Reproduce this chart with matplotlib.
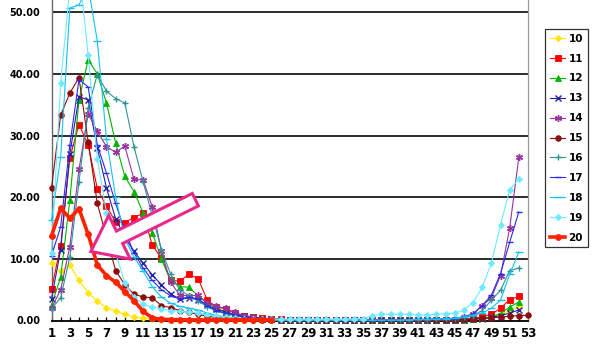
import numpy as np
import matplotlib
matplotlib.use("Agg")
import matplotlib.pyplot as plt
from matplotlib.patches import FancyArrowPatch

# ---------------- data ----------------
weeks = list(range(1, 54))
x_tick_labels = [str(w) if w % 2 == 1 else "" for w in weeks]
y_ticks = [0, 10, 20, 30, 40, 50]
y_tick_labels = ["0.00", "10.00", "20.00", "30.00", "40.00", "50.00"]
series_names = ["10", "11", "12", "13", "14", "15", "16", "17", "18", "19", "20"]

N = None
s10 = [9.3, 8.0, 9.0, 6.5, 4.5, 3.1, 2.1, 1.5, 1.0, 0.6, 0.35, 0.2,
       0.15, 0.12, 0.1, 0.1, 0.08, 0.06, 0.05, 0.04, 0.03, 0.03, 0.02, 0.02, 0.02,
       0.02, 0.02, 0.02, 0.02, 0.02, 0.02, 0.02, 0.02, 0.02, 0.02, 0.03, 0.03, 0.03,
       0.03, 0.03, 0.04, 0.04, 0.05, 0.05,
       0.1, 0.15, 0.25, 0.4, 0.6, 1.0, 1.6, 2.3, N]
s11 = [5.1, 12.1, 26.4, 31.8, 28.5, 21.4, 18.5, 16.0, 15.9, 16.7, 17.4, 12.2,
       10.1, 6.5, 6.4, 7.5, 6.8, 3.3, 2.2, 1.9, 1.2, 0.8, 0.6, 0.4, 0.3,
       0.2, 0.15, 0.1, 0.08, 0.06, 0.05, 0.05, 0.05, 0.05, 0.05, 0.05, 0.05, 0.06,
       0.06, 0.07, 0.08, 0.08, 0.1, 0.12,
       0.15, 0.25, 0.35, 0.6, 1.0, 2.0, 3.4, 3.9, N]
s12 = [2.5, 7.0, 19.5, 35.8, 42.3, 40.0, 35.3, 28.8, 23.4, 20.9, 17.5, 14.2,
       10.0, 6.5, 5.5, 5.4, 4.0, 2.8, 2.0, 1.4, 0.9, 0.6, 0.4, 0.3, 0.2,
       0.15, 0.1, 0.08, 0.05, 0.04, 0.03, 0.03, 0.03, 0.03, 0.03, 0.03, 0.03, 0.04,
       0.04, 0.05, 0.05, 0.06, 0.07, 0.08,
       0.1, 0.15, 0.2, 0.35, 0.6, 1.1, 2.2, 3.0, N]
s13 = [3.5, 11.5, 27.0, 36.3, 35.8, 28.0, 21.5, 16.5, 13.5, 11.2, 9.3, 7.4,
       5.8, 4.3, 3.5, 3.6, 3.4, 2.5, 1.8, 1.4, 1.0, 0.7, 0.5, 0.3, 0.2,
       0.15, 0.1, 0.08, 0.05, 0.04, 0.03, 0.03, 0.03, 0.03, 0.03, 0.03, 0.04, 0.04,
       0.04, 0.05, 0.05, 0.06, 0.07, 0.08,
       0.1, 0.15, 0.2, 0.3, 0.5, 0.8, 1.2, 1.7, N]
s14 = [2.0, 5.0, 12.0, 24.5, 33.5, 30.7, 28.2, 27.3, 28.3, 22.9, 22.8, 18.4,
       11.2, 6.2, 4.1, 4.0, 4.1, 2.8, 2.3, 2.0, 1.3, 0.8, 0.5, 0.3, 0.2,
       0.15, 0.1, 0.08, 0.06, 0.05, 0.05, 0.05, 0.05, 0.05, 0.05, 0.06, 0.06, 0.07,
       0.08, 0.1, 0.12, 0.15, 0.2, 0.25,
       0.3, 0.5, 1.0, 2.4, 3.7, 7.3, 15.0, 26.5, N]
s15 = [21.5, 33.3, 36.9, 39.4, 29.0, 19.0, 13.5, 8.1, 5.8, 4.3, 3.8, 3.7,
       2.4, 2.1, 1.6, 1.3, 1.0, 0.7, 0.5, 0.4, 0.3, 0.2, 0.15, 0.1, 0.1,
       0.08, 0.06, 0.05, 0.05, 0.05, 0.05, 0.05, 0.05, 0.05, 0.05, 0.06, 0.06, 0.07,
       0.08, 0.08, 0.1, 0.1, 0.12, 0.13,
       0.15, 0.2, 0.25, 0.35, 0.45, 0.55, 0.7, 0.8, 0.85]
s16 = [1.9, 3.7, 10.3, 22.5, 34.5, 39.9, 37.2, 36.0, 35.3, 28.2, 22.5, 17.0,
       11.5, 7.5, 5.0, 4.0, 3.2, 2.2, 1.5, 1.1, 0.8, 0.5, 0.35, 0.25, 0.2,
       0.15, 0.1, 0.08, 0.06, 0.05, 0.05, 0.05, 0.05, 0.05, 0.05, 0.06, 0.07, 0.08,
       0.1, 0.1, 0.12, 0.15, 0.2, 0.25,
       0.3, 0.5, 0.8, 1.6, 3.3, 4.9, 8.1, 8.5, N]
s17 = [10.5, 15.2, 28.5, 39.1, 37.9, 28.5, 23.9, 19.0, 14.5, 11.0, 8.5, 6.5,
       5.0, 4.0, 3.5, 3.8, 3.5, 2.4, 1.6, 1.2, 0.9, 0.6, 0.4, 0.3, 0.2,
       0.15, 0.12, 0.1, 0.08, 0.07, 0.07, 0.07, 0.08, 0.08, 0.1, 0.1, 0.12, 0.13,
       0.15, 0.15, 0.17, 0.2, 0.22, 0.25,
       0.3, 0.6, 1.1, 2.4, 4.1, 7.6, 12.7, 17.6, N]
s18 = [16.3, 26.5, 50.7, 51.2, 54.3, 45.3, 29.5, 20.0, 13.3, 10.3, 8.0, 5.5,
       3.8, 2.8, 2.3, 2.0, 1.7, 1.2, 0.8, 0.6, 0.4, 0.3, 0.2, 0.15, 0.1,
       0.08, 0.06, 0.05, 0.05, 0.05, 0.05, 0.05, 0.05, 0.05, 0.06, 0.07, 0.08, 0.1,
       0.12, 0.15, 0.18, 0.2, 0.25, 0.3,
       0.4, 0.6, 0.9, 1.2, 2.0, 3.3, 7.5, 11.1, N]
s19 = [11.0, 38.6, 53.9, 57.1, 43.1, 26.2, 17.5, 11.0, 6.1, 3.8, 2.6, 2.2,
       1.9, 1.6, 1.5, 1.4, 1.2, 0.9, 0.7, 0.5, 0.4, 0.3, 0.25, 0.2, 0.2,
       0.2, 0.2, 0.2, 0.2, 0.2, 0.2, 0.2, 0.2, 0.25, 0.3, 0.8, 1.0, 1.0,
       1.0, 1.0, 0.9, 0.9, 1.0, 1.1,
       1.2, 1.7, 2.9, 5.4, 9.3, 15.5, 21.2, 23.0, N]
s20 = [13.7, 18.2, 16.6, 18.1, 14.0, 9.0, 7.3, 6.2, 4.7, 3.2, 1.5, 0.4,
       0.2, 0.15, 0.12, 0.1, 0.1, 0.1, 0.1, 0.1, 0.1, 0.1, 0.1, 0.1, 0.1,
       N, N, N, N, N, N, N, N, N, N, N, N, N,
       N, N, N, N, N, N,
       N, N, N, N, N, N, N, N, N]

series_values = [s10, s11, s12, s13, s14, s15, s16, s17, s18, s19, s20]

# annotation arrow (data units: week, value)
ARROW_TAIL = (16.7, 19.6)
ARROW_TIP = (5.3, 11.2)

# ---------------- styles ----------------
colors = ["#FFE600", "#FF0000", "#00B400", "#22229E", "#9933A0", "#8E0C0C",
          "#2E9494", "#2A2AF0", "#12C2F2", "#6FEAFF", "#FF2200"]
markers = ["D", "s", "^", "x", (6, 2, 0), "o", "+", "_", "_", "D", "o"]
msizes = [3.2, 3.8, 4.2, 4.0, 5.0, 4.0, 5.0, 4.0, 6.0, 3.2, 4.2]
lwidths = [0.8] * 10 + [2.6]

narrow = ["Liberation Sans Narrow", "DejaVu Sans"]

fig = plt.figure(figsize=(6, 3.5), dpi=100)
ax = fig.add_axes([51.5 / 600, 29.5 / 350, (528 - 51.5) / 600, 1 - 29.5 / 350])

for name, vals, c, m, ms, lw in zip(series_names, series_values, colors,
                                    markers, msizes, lwidths):
    y = np.array([np.nan if v is None else v for v in vals], dtype=float)
    mew = 1.0 if m in ("x", "+", "_", (6, 2, 0)) else 0.6
    ax.plot(weeks, y, color=c, lw=lw, marker=m, markersize=ms,
            markeredgewidth=mew, markerfacecolor=c, markeredgecolor=c,
            label=name, clip_on=False, zorder=3)

ax.set_xlim(1, 53)
ax.set_ylim(0, 52.0)
ax.set_yticks(y_ticks)
ax.set_yticklabels(y_tick_labels, fontsize=7, fontweight="bold", family="DejaVu Sans")
ax.set_xticks(weeks)
ax.set_xticklabels(x_tick_labels, fontsize=8.5, fontweight="bold", family=narrow)
ax.tick_params(axis="x", direction="in", length=3, width=0.9, color="black", pad=5)
ax.tick_params(axis="y", length=0, pad=8)

for v in y_ticks[1:]:
    ax.axhline(v, color="#1a1a1a", lw=1.3, zorder=1)

ax.spines["top"].set_visible(False)
ax.spines["right"].set_color("#9a9a9a")
ax.spines["right"].set_linewidth(0.9)
ax.spines["left"].set_color("#6a6a6a")
ax.spines["left"].set_linewidth(1.0)
ax.spines["bottom"].set_color("black")
ax.spines["bottom"].set_linewidth(1.3)

arrow = FancyArrowPatch(ARROW_TAIL, ARROW_TIP,
                        arrowstyle="simple,head_length=23,head_width=35,tail_width=10",
                        mutation_scale=1, shrinkA=0, shrinkB=0,
                        facecolor="white", edgecolor="#E8288C", lw=2.2,
                        joinstyle="miter", zorder=6, clip_on=False)
ax.add_patch(arrow)

leg = fig.legend(loc="upper left", bbox_to_anchor=(545 / 600, 1 - 29 / 350),
                 frameon=True, fancybox=False, shadow=False,
                 prop={"family": narrow, "weight": "bold", "size": 7.5},
                 handlelength=1.5, handletextpad=0.3, labelspacing=0.95,
                 borderpad=0.45, borderaxespad=0)
leg.get_frame().set_edgecolor("black")
leg.get_frame().set_linewidth(0.9)

fig.savefig("out.png", dpi=100)
